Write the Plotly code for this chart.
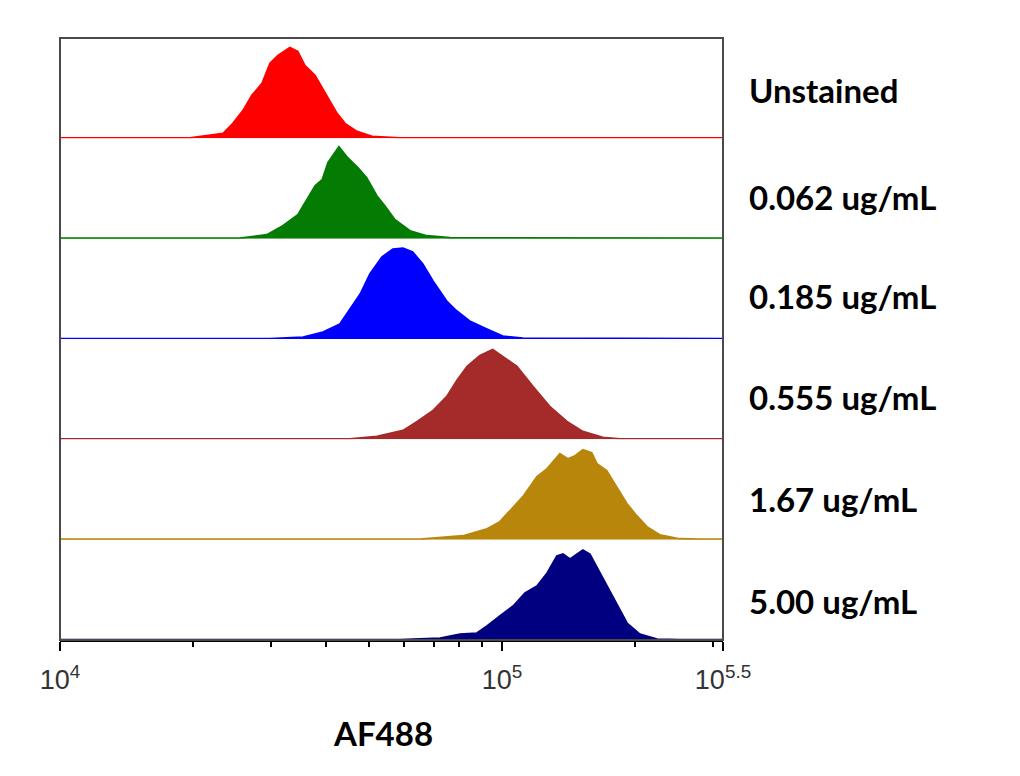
import plotly.graph_objects as go
from plotly.subplots import make_subplots

# ---- data (x in log10 of AF488 intensity, y = relative count, % of panel height) ----
sample_labels = ["Unstained", "0.062 ug/mL", "0.185 ug/mL", "0.555 ug/mL", "1.67 ug/mL", "5.00 ug/mL"]
sample_colors = ["#ff0000", "#047c04", "#0000ff", "#a52a2a", "#b8860b", "#000080"]

unstained_log = [4.0, 4.294, 4.369, 4.391, 4.414, 4.434, 4.457, 4.475, 4.493, 4.520, 4.538, 4.554,
                 4.577, 4.604, 4.627, 4.645, 4.672, 4.706, 4.769, 5.5]
unstained_cnt = [0.5, 0.5, 5, 15, 28, 43, 55, 75, 83, 91, 87, 73, 63, 42, 25, 15, 7, 2, 0.5, 0.5]

c0062_log = [4.0, 4.407, 4.468, 4.504, 4.538, 4.561, 4.577, 4.593, 4.606, 4.631, 4.651, 4.674,
             4.694, 4.717, 4.735, 4.758, 4.792, 4.830, 4.882, 5.5]
c0062_cnt = [0.5, 0.5, 4, 13, 24, 41, 53, 59, 76, 92, 81, 71, 61, 43, 33, 19, 8, 3, 1, 0.5]

c0185_log = [4.0, 4.475, 4.550, 4.595, 4.633, 4.656, 4.679, 4.701, 4.728, 4.753, 4.776, 4.798,
             4.821, 4.844, 4.875, 4.898, 4.927, 4.966, 5.002, 5.047, 5.5]
c0185_cnt = [0.5, 0.5, 2, 7, 15, 30, 45, 65, 82, 90, 91, 87, 75, 58, 38, 28, 18, 10, 3, 1, 0.5]

c0555_log = [4.0, 4.656, 4.717, 4.776, 4.808, 4.844, 4.875, 4.898, 4.921, 4.950, 4.979, 5.002,
             5.034, 5.070, 5.108, 5.147, 5.183, 5.228, 5.267, 5.5]
c0555_cnt = [0.5, 0.5, 3, 9, 18, 29, 43, 59, 73, 84, 90, 83, 73, 53, 33, 18, 8, 2, 0.5, 0.5]

c167_log = [4.0, 4.814, 4.912, 4.966, 4.995, 5.018, 5.047, 5.079, 5.102, 5.131, 5.149, 5.165,
            5.183, 5.203, 5.215, 5.237, 5.260, 5.283, 5.305, 5.328, 5.357, 5.402, 5.448, 5.5]
c167_cnt = [0.5, 0.5, 4, 11, 18, 29, 43, 63, 71, 86, 81, 84, 90, 87, 76, 69, 53, 36, 24, 13, 5, 1, 0.5, 0.5]

c500_log = [4.0, 4.769, 4.860, 4.905, 4.943, 4.966, 4.995, 5.025, 5.052, 5.079, 5.102, 5.124,
            5.138, 5.154, 5.170, 5.183, 5.199, 5.222, 5.251, 5.283, 5.312, 5.351, 5.402, 5.5]
c500_cnt = [0.5, 0.5, 2, 6, 7, 14, 24, 34, 47, 54, 67, 84, 86, 81, 86, 90, 86, 67, 42, 17, 6, 1, 0.5, 0.5]

series_log = [unstained_log, c0062_log, c0185_log, c0555_log, c167_log, c500_log]
series_cnt = [unstained_cnt, c0062_cnt, c0185_cnt, c0555_cnt, c167_cnt, c500_cnt]

major_ticks_log = [4.0, 5.0, 5.5]
major_tick_text = ["10<sup>4</sup>", "10<sup>5</sup>", "10<sup>5.5</sup>"]
minor_ticks = [20000, 30000, 40000, 50000, 60000, 70000, 80000, 90000, 200000, 300000]
x_title = "AF488"

# ---- figure ----
n = len(sample_labels)
fig = make_subplots(rows=n, cols=1, shared_xaxes=True, vertical_spacing=0)

for i in range(n):
    xs = [10 ** v for v in series_log[i]]
    fig.add_trace(
        go.Scatter(
            x=xs, y=series_cnt[i], mode="lines",
            line=dict(color=sample_colors[i], width=1.6),
            fill="tozeroy", fillcolor=sample_colors[i],
            showlegend=False, hoverinfo="skip",
        ),
        row=i + 1, col=1,
    )

fig.update_yaxes(range=[0, 100.3], visible=False)
fig.update_xaxes(type="log", range=[4, 5.5], showgrid=False, zeroline=False)

L, R, T, B = 60, 1020 - 723, 38, 776 - 640
pw = 1020 - L - R
ph = 776 - T - B

fig.update_xaxes(
    showline=True, linecolor="black", linewidth=2,
    ticks="outside", ticklen=9, tickwidth=2, tickcolor="black",
    tickvals=[10 ** v for v in major_ticks_log], ticktext=major_tick_text,
    ticklabelstandoff=6,
    tickfont=dict(family="Liberation Sans, Arial", size=27, color="#333333"),
    minor=dict(ticks="outside", ticklen=5, tickwidth=1.5, tickcolor="black",
               tickvals=minor_ticks),
    row=n, col=1,
)

annotations = []
label_y_px = [90, 197, 296, 397, 499, 601]
for lab, ypx in zip(sample_labels, label_y_px):
    annotations.append(dict(
        text=lab, xref="paper", yref="paper",
        x=(747 - L) / pw, y=(640 - ypx) / ph,
        xanchor="left", yanchor="middle", showarrow=False,
        font=dict(family="Lato, Open Sans, sans-serif", size=33, color="black", weight="bold"),
    ))
annotations.append(dict(
    text=x_title, xref="paper", yref="paper",
    x=(383 - L) / pw, y=(640 - 733) / ph,
    xanchor="center", yanchor="middle", showarrow=False,
    font=dict(family="Lato, Open Sans, sans-serif", size=33, color="black", weight="bold"),
))

fig.update_layout(
    width=1020, height=776,
    margin=dict(l=L, r=R, t=T, b=B),
    paper_bgcolor="white", plot_bgcolor="white",
    showlegend=False,
    annotations=annotations,
    shapes=[dict(type="rect", xref="paper", yref="paper", x0=0, x1=1, y0=0, y1=1,
                 line=dict(color="#4a4a4a", width=2), layer="above")],
)

fig.write_html("out.html")
